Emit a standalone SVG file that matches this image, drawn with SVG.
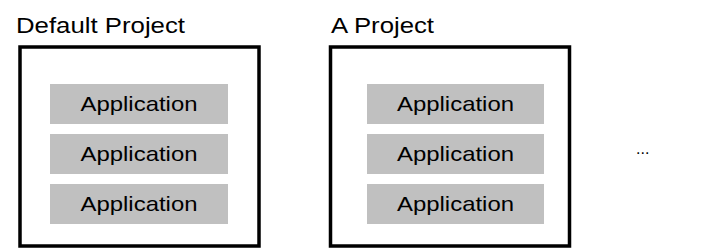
<svg xmlns="http://www.w3.org/2000/svg" width="705" height="249" viewBox="0 0 705 249">
<style>
.title{font-family:"Liberation Sans",Arial,sans-serif;font-size:22px;fill:#000}
.frame{fill:#fff;stroke:#000;stroke-width:3.5}
.app{fill:#c0c0c0}
.lbl{font-family:"Liberation Sans",Arial,sans-serif;font-size:21px;fill:#000;text-anchor:middle}
</style>
<rect width="705" height="249" fill="#fff"/>
<g id="default-project">
<text class="title" x="16" y="33" textLength="169" lengthAdjust="spacingAndGlyphs">Default Project</text>
<rect class="frame" x="20" y="47" width="239" height="199"/>
<g id="dp-app1"><rect class="app" x="50" y="84" width="178" height="40"/><text class="lbl" x="139" y="111" textLength="117" lengthAdjust="spacingAndGlyphs">Application</text></g>
<g id="dp-app2"><rect class="app" x="50" y="134" width="178" height="40"/><text class="lbl" x="139" y="161" textLength="117" lengthAdjust="spacingAndGlyphs">Application</text></g>
<g id="dp-app3"><rect class="app" x="50" y="184" width="178" height="40"/><text class="lbl" x="139" y="211" textLength="117" lengthAdjust="spacingAndGlyphs">Application</text></g>
</g>
<g id="a-project">
<text class="title" x="331" y="33" textLength="103" lengthAdjust="spacingAndGlyphs">A Project</text>
<rect class="frame" x="330.5" y="47" width="239" height="199"/>
<g id="ap-app1"><rect class="app" x="367" y="84" width="177" height="40"/><text class="lbl" x="455.5" y="111" textLength="117" lengthAdjust="spacingAndGlyphs">Application</text></g>
<g id="ap-app2"><rect class="app" x="367" y="134" width="177" height="40"/><text class="lbl" x="455.5" y="161" textLength="117" lengthAdjust="spacingAndGlyphs">Application</text></g>
<g id="ap-app3"><rect class="app" x="367" y="184" width="177" height="40"/><text class="lbl" x="455.5" y="211" textLength="117" lengthAdjust="spacingAndGlyphs">Application</text></g>
</g>
<g id="more">
<text x="636" y="154" style="font-family:'Liberation Sans',Arial,sans-serif;font-size:16px;fill:#000">...</text>
</g>
<g id="connectors"></g>
</svg>
